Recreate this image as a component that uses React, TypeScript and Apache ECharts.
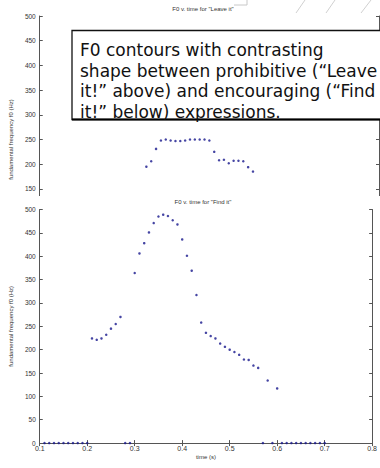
import React, { useEffect, useRef } from "react";
import * as echarts from "echarts";

const xMin = 0.1;
const xMax = 0.8;
const xStep = 0.1;
const yMin = 0;
const yMax = 500;
const yStep = 50;
const topVisibleMin = 150;

const leaveTitle = 'F0 v. time for "Leave it"';
const findTitle = 'F0 v. time for "Find it"';
const yName = "fundamental frequency f0 (Hz)";
const xName = "time (s)";
const noteText = [
  "F0 contours with contrasting",
  "shape between prohibitive (\u201CLeave",
  "it!\u201D above) and encouraging (\u201CFind",
  "it!\u201D below) expressions.",
];

const leaveTimes = [
  0.32, 0.33, 0.34, 0.35, 0.36, 0.37, 0.38, 0.39, 0.4, 0.41, 0.42, 0.43,
  0.44, 0.45, 0.46, 0.47, 0.48, 0.49, 0.5, 0.51, 0.52, 0.53, 0.54,
];
const leaveF0 = [
  195, 206, 231, 248, 250, 248, 247, 247, 248, 250, 250, 250, 250, 248, 225,
  208, 209, 202, 207, 207, 206, 194, 185,
];

const findTimes = [
  0.11, 0.12, 0.13, 0.14, 0.15, 0.16, 0.17, 0.18, 0.19, 0.2,
  0.21, 0.22, 0.23, 0.24, 0.25, 0.26, 0.27, 0.28, 0.29, 0.3,
  0.31, 0.32, 0.33, 0.34, 0.35, 0.36, 0.37, 0.38, 0.39, 0.4,
  0.41, 0.42, 0.43, 0.44, 0.45, 0.46, 0.47, 0.48, 0.49, 0.5,
  0.51, 0.52, 0.53, 0.54, 0.55, 0.56, 0.57, 0.58, 0.59, 0.6,
  0.61, 0.62, 0.63, 0.64, 0.65, 0.66, 0.67, 0.68, 0.69, 0.7,
];
const findF0 = [
  0, 0, 0, 0, 0, 0, 0, 0, 0, 0,
  224, 221, 224, 232, 245, 255, 270, 0, 0, 364,
  406, 428, 451, 471, 485, 489, 486, 477, 468, 436,
  401, 369, 317, 258, 236, 229, 224, 213, 206, 200,
  195, 189, 179, 178, 166, 161, 0, 134, 0, 117,
  0, 0, 0, 0, 0, 0, 0, 0, 0, 0,
];

const AXIS_COLOR = "#555";
const LABEL_COLOR = "#333";
const DOT_COLOR = "#16168c";
const SMALL_FONT = "Liberation Sans";

function zip(xs: number[], ys: number[]) {
  return xs.map((x, i) => [x, ys[i]]);
}

function axisSet(showXLabels: boolean, labelMin: number) {
  const line = { show: true, lineStyle: { color: AXIS_COLOR, width: 1 } };
  const tick = { show: true, inside: true, length: 3, lineStyle: { color: AXIS_COLOR, width: 1 } };
  const xAxis = [
    {
      type: "value",
      min: xMin,
      max: xMax,
      interval: xStep,
      position: "bottom",
      axisLine: line,
      axisTick: tick,
      splitLine: { show: false },
      axisLabel: {
        show: showXLabels,
        fontSize: 7,
        color: LABEL_COLOR,
        fontFamily: SMALL_FONT,
        margin: 2,
        showMinLabel: true,
        showMaxLabel: true,
        formatter: (v: number) => (Math.round(v * 10) / 10).toString(),
      },
      name: showXLabels ? xName : "",
      nameLocation: "middle",
      nameGap: 11,
      nameTextStyle: { fontSize: 6, color: LABEL_COLOR, fontFamily: SMALL_FONT },
    },
    {
      type: "value",
      min: xMin,
      max: xMax,
      interval: xStep,
      position: "top",
      axisLine: line,
      axisTick: tick,
      splitLine: { show: false },
      axisLabel: { show: false },
    },
  ];
  const yAxis = [
    {
      type: "value",
      min: yMin,
      max: yMax,
      interval: yStep,
      position: "left",
      axisLine: line,
      axisTick: tick,
      splitLine: { show: false },
      axisLabel: {
        fontSize: 6.5,
        color: LABEL_COLOR,
        fontFamily: SMALL_FONT,
        margin: 4,
        showMinLabel: true,
        showMaxLabel: true,
        formatter: (v: number) => (v >= labelMin ? String(v) : ""),
      },
      name: yName,
      nameLocation: "middle",
      nameGap: 17,
      nameTextStyle: { fontSize: 6, color: LABEL_COLOR, fontFamily: SMALL_FONT },
    },
    {
      type: "value",
      min: yMin,
      max: yMax,
      interval: yStep,
      position: "right",
      axisLine: line,
      axisTick: tick,
      splitLine: { show: false },
      axisLabel: { show: false },
    },
  ];
  return { xAxis, yAxis };
}

function scatter(data: number[][]) {
  return {
    type: "scatter",
    data,
    symbol: "circle",
    symbolSize: 2.5,
    itemStyle: { color: DOT_COLOR },
    clip: false,
    silent: true,
  };
}

function titleFor(text: string, top: number) {
  return {
    text,
    left: 203,
    textAlign: "center",
    top,
    padding: 0,
    textStyle: { fontSize: 6, fontWeight: "normal", color: LABEL_COLOR, fontFamily: SMALL_FONT },
  };
}

function topOption() {
  const { xAxis, yAxis } = axisSet(false, topVisibleMin);
  return {
    animation: false,
    backgroundColor: "#fff",
    title: titleFor(leaveTitle, 6),
    grid: { left: 28, right: 1, top: 16, height: 247 },
    xAxis,
    yAxis,
    series: [scatter(zip(leaveTimes, leaveF0))],
    graphic: [
      { type: "line", shape: { x1: 234, y1: 5, x2: 247, y2: 5 }, style: { stroke: "#c8c8c8", lineWidth: 1 } },
      { type: "line", shape: { x1: 247, y1: 5, x2: 247, y2: 0 }, style: { stroke: "#c8c8c8", lineWidth: 1 } },
      { type: "line", shape: { x1: 296, y1: 13, x2: 305, y2: 0 }, style: { stroke: "#d0d0d0", lineWidth: 1 } },
      { type: "line", shape: { x1: 326, y1: 13, x2: 335, y2: 0 }, style: { stroke: "#d0d0d0", lineWidth: 1 } },
      { type: "line", shape: { x1: 361, y1: 13, x2: 371, y2: 0 }, style: { stroke: "#d0d0d0", lineWidth: 1 } },
      {
        type: "rect",
        z: 100,
        shape: { x: 72, y: 30.5, width: 330, height: 89 },
        style: { fill: "#fff", stroke: "#111", lineWidth: 1.3 },
      },
      {
        type: "line",
        z: 101,
        shape: { x1: 72, y1: 119.5, x2: 380, y2: 119.5 },
        style: { stroke: "#000", lineWidth: 2 },
      },
      {
        type: "text",
        z: 102,
        x: 80,
        y: 40,
        style: {
          text: noteText.join("\n"),
          font: '17px "DejaVu Sans"',
          lineHeight: 20.5,
          fill: "#111",
          verticalAlign: "top",
        },
      },
    ],
  };
}

function bottomOption() {
  const { xAxis, yAxis } = axisSet(true, yMin);
  return {
    animation: false,
    backgroundColor: "#fff",
    title: titleFor(findTitle, 199),
    grid: { left: 28, right: 1, top: 209.5, height: 245 },
    xAxis,
    yAxis,
    series: [scatter(zip(findTimes, findF0))],
  };
}

export default function App() {
  const topRef = useRef<HTMLDivElement>(null);
  const botRef = useRef<HTMLDivElement>(null);
  useEffect(() => {
    const bot = echarts.init(botRef.current!, undefined, { renderer: "svg" });
    bot.setOption(bottomOption() as any);
    const top = echarts.init(topRef.current!, undefined, { renderer: "svg" });
    top.setOption(topOption() as any);
    return () => {
      top.dispose();
      bot.dispose();
    };
  }, []);
  return (
    <div style={{ position: "fixed", left: 0, top: 0, width: 380, height: 468, overflow: "hidden", background: "#fff" }}>
      <div ref={botRef} style={{ position: "absolute", left: 0, top: 0, width: 380, height: 468 }} />
      <div style={{ position: "absolute", left: 0, top: 0, width: 380, height: 196, overflow: "hidden", background: "#fff" }}>
        <div ref={topRef} style={{ width: 380, height: 280 }} />
      </div>
    </div>
  );
}
